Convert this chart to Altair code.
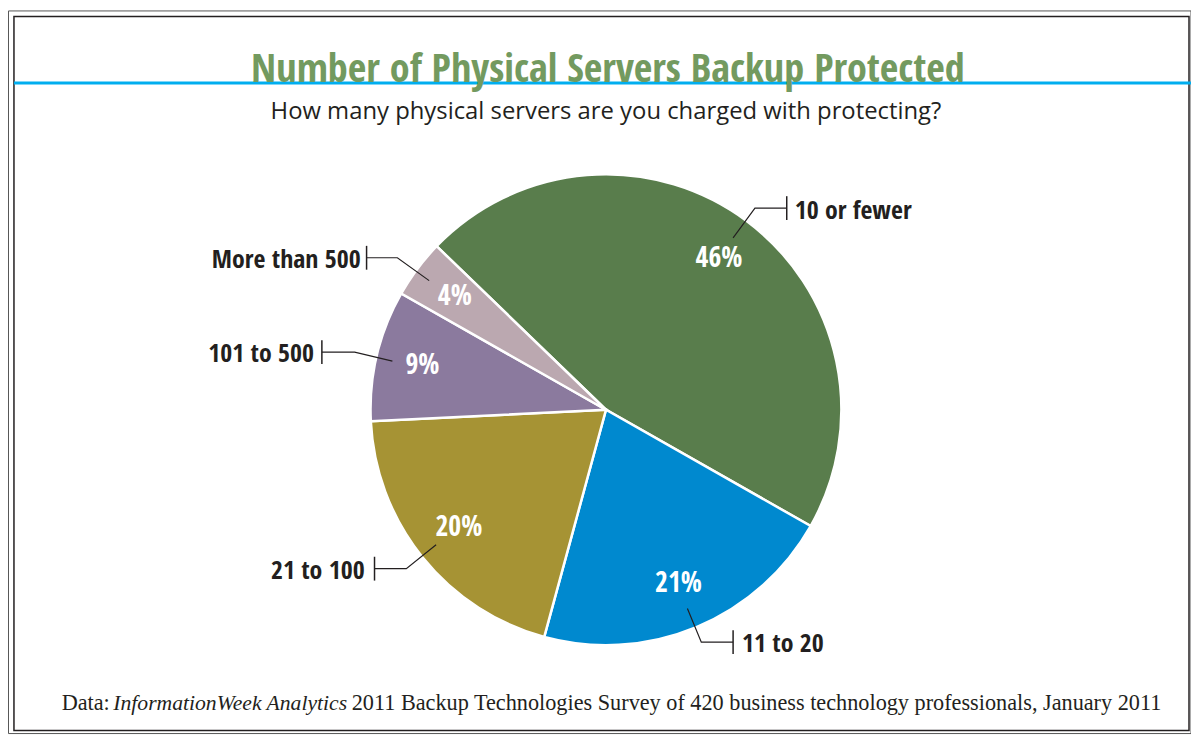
import math
import altair as alt
import pandas as pd

# ---------------- data ----------------
categories = ["10 or fewer", "11 to 20", "21 to 100", "101 to 500", "More than 500"]
shares = [46, 21, 20, 9, 4]
colors = ["#597D4C", "#0089CF", "#A69334", "#8B7A9E", "#BBA8B0"]

title_text = "Number of Physical Servers Backup Protected"
subtitle_text = "How many physical servers are you charged with protecting?"
source_parts = ["Data:", "InformationWeek Analytics",
                "2011 Backup Technologies Survey of 420 business technology professionals, January 2011"]

# ---------------- layout (chart pixel coordinates) ----------------
W, H = 1183, 720
CX, CY, R = 602, 402, 237
START = math.radians(-46)
COND = "Open Sans Condensed, Roboto Condensed, sans-serif"
SF = "Liberation Serif, Times New Roman, serif"

# leader lines: points (start in slice, elbow, end at bar) and label anchor
leaders = {
    "10 or fewer":   dict(pts=[(730, 229), (752, 199), (784, 199)], lab=(792, 210), align="left"),
    "11 to 20":      dict(pts=[(684, 602), (698, 636), (730, 636)], lab=(739, 646), align="left"),
    "21 to 100":     dict(pts=[(431, 538), (401, 562), (369, 562)], lab=(359, 572), align="right"),
    "101 to 500":    dict(pts=[(387, 353), (349, 344), (316, 344)], lab=(308, 354), align="right"),
    "More than 500": dict(pts=[(424, 272), (392, 249), (361, 249)], lab=(355, 259), align="right"),
}

df = pd.DataFrame({"category": categories, "share": shares, "idx": range(len(categories))})
df["pct"] = df["share"].astype(str) + "%"

line_rows, bar_rows, lab_rows = [], [], []
for c in categories:
    L = leaders[c]
    for k, (px, py) in enumerate(L["pts"]):
        line_rows.append({"category": c, "k": k, "x": px, "y": py})
    ex, ey = L["pts"][-1]
    bar_rows.append({"category": c, "x": ex, "y": ey - 12, "y2": ey + 12})
    lab_rows.append({"category": c, "x": L["lab"][0], "y": L["lab"][1], "align": L["align"]})
lines_df = pd.DataFrame(line_rows)
bars_df = pd.DataFrame(bar_rows)
labs_df = pd.DataFrame(lab_rows)

xs = alt.Scale(domain=[0, W], range=[0, W])
ys = alt.Scale(domain=[0, H], range=[0, H])
one = pd.DataFrame({"a": [0]})

theta_enc = alt.Theta("share:Q", stack=True,
                      scale=alt.Scale(domain=[0, 100], range=[START, START + 2 * math.pi]))
color_enc = alt.Color("category:N", scale=alt.Scale(domain=categories, range=colors), legend=None)

pie = alt.Chart(df).mark_arc(radius=R, stroke="white", strokeWidth=2.5).encode(
    theta=theta_enc, color=color_enc, order=alt.Order("idx:Q"),
    x=alt.value(CX), y=alt.value(CY))

pct = alt.Chart(df).mark_text(radius=190, font=COND, fontWeight="bold", fontSize=28,
                              color="white", baseline="middle").encode(
    theta=theta_enc, order=alt.Order("idx:Q"), text="pct:N",
    x=alt.value(CX), y=alt.value(CY))

lead = alt.Chart(lines_df).mark_line(color="#231F20", strokeWidth=1.2).encode(
    x=alt.X("x:Q", scale=xs, axis=None), y=alt.Y("y:Q", scale=ys, axis=None),
    detail="category:N", order="k:Q")

bars = alt.Chart(bars_df).mark_rule(color="#231F20", strokeWidth=1.5).encode(
    x=alt.X("x:Q", scale=xs, axis=None), y=alt.Y("y:Q", scale=ys, axis=None), y2="y2:Q")

labs_left = alt.Chart(labs_df[labs_df["align"] == "left"]).mark_text(
    font=COND, fontWeight="bold", fontSize=26, color="#231F20",
    align="left", baseline="alphabetic").encode(
    x=alt.X("x:Q", scale=xs, axis=None), y=alt.Y("y:Q", scale=ys, axis=None), text="category:N")
labs_right = alt.Chart(labs_df[labs_df["align"] == "right"]).mark_text(
    font=COND, fontWeight="bold", fontSize=26, color="#231F20",
    align="right", baseline="alphabetic").encode(
    x=alt.X("x:Q", scale=xs, axis=None), y=alt.Y("y:Q", scale=ys, axis=None), text="category:N")

frame_outer = alt.Chart(one).mark_rect(filled=False, stroke="#555555", strokeWidth=1).encode(
    x=alt.value(0.5), x2=alt.value(W + 8), y=alt.value(0.5), y2=alt.value(H + 8))
frame = alt.Chart(one).mark_rect(filled=False, stroke="#231F20", strokeWidth=1.5).encode(
    x=alt.value(6), x2=alt.value(1189), y=alt.value(6), y2=alt.value(725))
blue = alt.Chart(one).mark_rule(color="#00AEEF", strokeWidth=3).encode(
    x=alt.value(6), x2=alt.value(W + 8), y=alt.value(73))

title = alt.Chart(one).mark_text(text=title_text, font=COND, fontWeight="bold",
                                 fontSize=40.5, color="#739A5F", align="center",
                                 baseline="alphabetic").encode(x=alt.value(604), y=alt.value(72))
subtitle = alt.Chart(one).mark_text(text=subtitle_text, font="Open Sans", fontSize=24,
                                    color="#231F20", align="center",
                                    baseline="alphabetic").encode(x=alt.value(602), y=alt.value(109))

src1 = alt.Chart(one).mark_text(text=source_parts[0], font=SF, fontSize=22.4, color="#231F20",
                                align="left", baseline="alphabetic").encode(
    x=alt.value(54), y=alt.value(704))
src2 = alt.Chart(one).mark_text(text=source_parts[1], font=SF, fontSize=21.8, fontStyle="italic",
                                color="#231F20", align="left", baseline="alphabetic").encode(
    x=alt.value(106), y=alt.value(704))
src3 = alt.Chart(one).mark_text(text=source_parts[2], font=SF, fontSize=22.4, color="#231F20",
                                align="left", baseline="alphabetic").encode(
    x=alt.value(346), y=alt.value(704))

chart = alt.layer(frame_outer, frame, blue, pie, pct, lead, bars, labs_left, labs_right,
                  title, subtitle, src1, src2, src3).properties(
    width=W, height=H, autosize="none",
    padding={"left": 0, "top": 0, "right": 8, "bottom": 8}
).configure_view(stroke=None)

chart.save("out.html", embed_options={"renderer": "svg", "actions": False})
